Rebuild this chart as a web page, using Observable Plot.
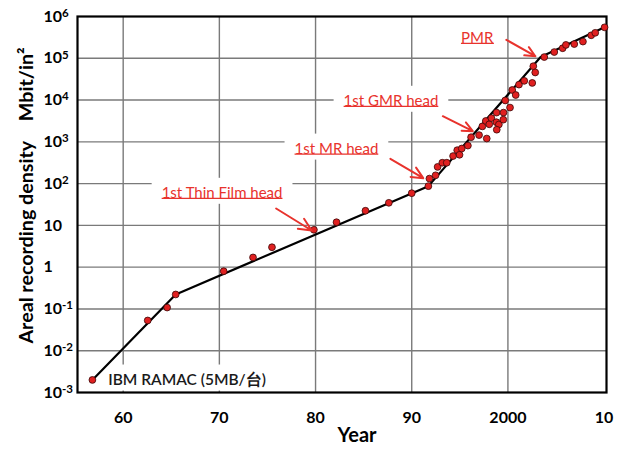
<!DOCTYPE html>
<html><head><meta charset="utf-8">
<script src="https://cdn.jsdelivr.net/npm/d3@7"></script>
<script src="https://cdn.jsdelivr.net/npm/@observablehq/plot@0.6"></script>
<style>body{margin:0;background:#fff}</style>
</head><body><div id="chart"></div>
<script>
// Observed drives (year, areal density in Mbit/in²)
const pointYears = [1956.8,1962.55,1964.57,1965.46,1970.45,1973.5,1975.47,1979.83,1982.18,1985.19,1987.62,1990.0,1991.73,1991.84,1992.48,1992.69,1993.18,1993.64,1994.3,1994.73,1994.97,1995.2,1995.84,1996.17,1997.0,1997.8,1997.34,1997.7,1998.06,1998.28,1998.82,1998.8,1999.06,1998.84,1999.54,1999.52,1999.72,2000.22,2000.45,2000.81,2001.15,2001.7,2002.53,2002.64,2002.84,2003.78,2004.82,2005.69,2006.03,2006.9,2007.8,2008.66,2009.08,2010.05];
const pointValues = [0.002,0.053,0.108,0.222,0.80,1.71,3.0,7.85,11.9,22.4,34.7,59,87,132,158,251,316,316,457,631,490,692,813,1290,1450,1200,2340,3160,2630,3700,5010,2950,2600,1950,5010,3390,9770,6610,17400,13200,23400,28800,25700,64600,45700,107000,141000,174000,209000,219000,251000,355000,407000,550000];
// Trend line (piecewise)
const trendYears = [1956.8, 1965.46, 1991.73, 2003.4, 2010.05];
const trendValues = [0.002, 0.222, 87, 107000, 550000];
// Axes
const xTicks = [1960, 1970, 1980, 1990, 2000, 2010];
const xTickLabels = ["60", "70", "80", "90", "2000", "10"];
const xGrid = [1960, 1970, 1980, 1990, 2000];
const yTicks = [1e-3, 1e-2, 1e-1, 1, 10, 1e2, 1e3, 1e4, 1e5, 1e6];
const yTickLabels = ["10^-3", "10^-2", "10^-1", "1", "10", "10^2", "10^3", "10^4", "10^5", "10^6"];
const yGrid = [1e-2, 1e-1, 1, 10, 1e2, 1e3, 1e4, 1e5];
const xTitle = "Year";
const yTitle = "Areal recording density\u2003 Mbit/in²";
// Annotations
const annoLabels = ["1st Thin Film head", "1st MR head", "1st GMR head", "PMR"];
const annoX = [1970.28, 1982.17, 1987.84, 1996.8];
const annoY = [59.6, 681, 9500, 305000];
const arrowX1 = [1975.9, 1987.78, 1993.23, 1999.84];
const arrowY1 = [25.4, 393, 4111, 276700];
const arrowX2 = [1979.6, 1991.2, 1996.35, 2002.85];
const arrowY2 = [7.55, 135, 1800, 112000];
const ramacLabel = ["IBM RAMAC (5MB/台)"];
const ramacX = [1958.45];
const ramacY = [0.00204];

const RED = "#e8332d";
const trend = trendYears.map((year, i) => ({year, value: trendValues[i]}));
const points = pointYears.map((year, i) => ({year, value: pointValues[i]}));
const annos = annoLabels.map((label, i) => ({label, x: annoX[i], y: annoY[i]}));
const arrows = arrowX1.map((x1, i) => ({x1, y1: arrowY1[i], x2: arrowX2[i], y2: arrowY2[i]}));
const ramac = ramacLabel.map((label, i) => ({label, x: ramacX[i], y: ramacY[i]}));
const xLabelMap = new Map(xTicks.map((t, i) => [t, xTickLabels[i]]));
const yLabelMap = new Map(yTicks.map((t, i) => [t, yTickLabels[i]]));

const chart = Plot.plot({
  width: 621, height: 450,
  marginLeft: 77, marginRight: 15, marginTop: 16, marginBottom: 58,
  style: {fontFamily: "Lato, 'Noto Sans', sans-serif", background: "white", color: "black"},
  x: {domain: [1955.25, 2010.25]},
  y: {type: "log", domain: [1e-3, 1e6]},
  marks: [
    Plot.ruleX(xGrid, {stroke: "#7a7a7a", strokeWidth: 1.4}),
    Plot.ruleY(yGrid, {stroke: "#7a7a7a", strokeWidth: 1.4}),
    Plot.frame({stroke: "black", strokeWidth: 2.2}),
    Plot.line(trend, {x: "year", y: "value", stroke: "black", strokeWidth: 2.2}),
    Plot.dot(points, {x: "year", y: "value", r: 3.4, fill: "#e02020", stroke: "#3a0808", strokeWidth: 0.8}),
    Plot.arrow(arrows, {x1: "x1", y1: "y1", x2: "x2", y2: "y2", stroke: RED, strokeWidth: 2, headLength: 11, headAngle: 50}),
    Plot.text(annos, {x: "x", y: "y", text: "label", fill: RED, fontSize: 15, textAnchor: "middle", className: "anno-red"}),
    Plot.text(ramac, {x: "x", y: "y", text: "label", fill: "#1a1a1a", fontSize: 15.5, fontWeight: 600, textAnchor: "start", className: "anno-black"}),
    Plot.axisX({ticks: xTicks, tickFormat: d => xLabelMap.get(d), tickSize: 0, tickPadding: 19, fontSize: 16, fontWeight: "bold", label: null}),
    Plot.axisY({ticks: yTicks, tickFormat: d => yLabelMap.get(d), tickSize: 0, tickPadding: 34, textAnchor: "start", fontSize: 16, fontWeight: "bold", label: null}),
    Plot.text([xTitle], {frameAnchor: "bottom", text: d => d, dy: 49, dx: 15, fontSize: 20, fontWeight: "bold", textAnchor: "middle"}),
    Plot.text([yTitle], {frameAnchor: "left", text: d => d, rotate: -90, dx: -51, dy: -9, fontSize: 19.7, fontWeight: "bold", textAnchor: "middle"})
  ]
});
document.getElementById("chart").appendChild(chart);

// superscript exponents in y tick labels
d3.select(chart).selectAll('g[aria-label="y-axis tick label"] text').each(function() {
  const s = this.textContent;
  if (s.includes("^")) {
    const [base, exp] = s.split("^");
    const t = d3.select(this);
    t.text(null);
    t.append("tspan").text(base);
    t.append("tspan").attr("dy", "-0.42em").attr("font-size", "0.72em").text(exp);
  }
});
// white boxes behind annotation texts (under the frame) and underlines for red ones
const NS = "http://www.w3.org/2000/svg";
const firstGroupAfterGrid = chart.querySelector('[aria-label="frame"]');
const boxLayer = document.createElementNS(NS, "g");
if (firstGroupAfterGrid && firstGroupAfterGrid.parentNode === chart) chart.insertBefore(boxLayer, firstGroupAfterGrid);
else chart.insertBefore(boxLayer, chart.children[3] || null);
const ulLayer = document.createElementNS(NS, "g");
chart.appendChild(ulLayer);
function boxes(selector, underline) {
  chart.querySelectorAll(selector + " text").forEach(el => {
    const b = el.getBBox();
    const m = el.getCTM();
    const x0 = b.x * m.a + m.e, y0 = b.y * m.d + m.f;
    const r = document.createElementNS(NS, "rect");
    r.setAttribute("x", x0 - 10); r.setAttribute("y", y0 - 5);
    r.setAttribute("width", b.width + 20); r.setAttribute("height", b.height + 8);
    r.setAttribute("fill", "white");
    boxLayer.appendChild(r);
    if (underline) {
      const l = document.createElementNS(NS, "line");
      const yy = y0 + b.height - 2.5;
      l.setAttribute("x1", x0); l.setAttribute("x2", x0 + b.width);
      l.setAttribute("y1", yy); l.setAttribute("y2", yy);
      l.setAttribute("stroke", RED); l.setAttribute("stroke-width", 1.2);
      ulLayer.appendChild(l);
    }
  });
}
boxes(".anno-red", true);
boxes(".anno-black", false);
</script>
</body></html>
